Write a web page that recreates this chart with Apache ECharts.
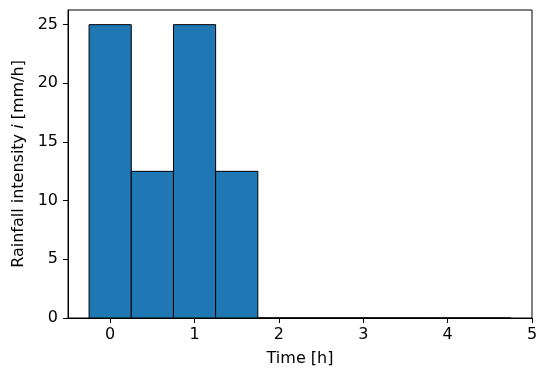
<!DOCTYPE html>
<html>
<head>
<meta charset="utf-8">
<script src="https://cdn.jsdelivr.net/npm/echarts@6/dist/echarts.min.js"></script>
<style>
  html, body { margin: 0; padding: 0; background: #fff; }
  #chart { width: 548px; height: 379px; }
</style>
</head>
<body>
<div id="chart"></div>
<script>
// time step centres [h] and rainfall intensity [mm/h]
const times = [0, 0.5, 1, 1.5, 2, 2.5, 3, 3.5, 4, 4.5];
const intensity = [25, 12.5, 25, 12.5, 0, 0, 0, 0, 0, 0];
const binWidth = 0.5;
const xTicks = [0, 1, 2, 3, 4, 5];
const yTicks = [0, 5, 10, 15, 20, 25];

const font = 'DejaVu Sans';
const fs = 16;
const chart = echarts.init(document.getElementById('chart'));

chart.setOption({
    animation: false,
    grid: {
        left: 68, right: 16, top: 10, bottom: 61,
        show: true, borderColor: '#000', borderWidth: 1
    },
    xAxis: {
        type: 'value',
        min: -0.5, max: 5,
        name: 'Time [h]',
        nameLocation: 'middle',
        nameGap: 33,
        nameTextStyle: { fontFamily: font, fontSize: fs, color: '#000' },
        axisLine: { show: true, onZero: false, lineStyle: { color: '#000', width: 1 } },
        axisTick: { show: true, inside: false, length: 5, customValues: xTicks, lineStyle: { color: '#000' } },
        axisLabel: { customValues: xTicks, margin: 9, fontFamily: font, fontSize: fs, color: '#000' },
        splitLine: { show: false }
    },
    yAxis: {
        type: 'value',
        min: 0, max: 26.25,
        name: '{a|Rainfall intensity }{i|i}{a| [mm/h]}',
        nameLocation: 'middle',
        nameGap: 40,
        nameTextStyle: {
            fontFamily: font, fontSize: fs, color: '#000',
            rich: {
                a: { fontFamily: font, fontSize: fs, color: '#000' },
                i: { fontFamily: font, fontSize: fs, color: '#000', fontStyle: 'italic' }
            }
        },
        axisLine: { show: true, onZero: false, lineStyle: { color: '#000', width: 1 } },
        axisTick: { show: true, inside: false, length: 5, customValues: yTicks, lineStyle: { color: '#000' } },
        axisLabel: { customValues: yTicks, margin: 10, fontFamily: font, fontSize: fs, color: '#000' },
        splitLine: { show: false }
    },
    series: [{
        type: 'custom',
        data: times.map((t, i) => [t, intensity[i]]),
        renderItem: (params, api) => {
            const t = api.value(0);
            const v = api.value(1);
            const p0 = api.coord([t - binWidth / 2, v]);
            const p1 = api.coord([t + binWidth / 2, 0]);
            return {
                type: 'rect',
                shape: { x: p0[0], y: p0[1], width: p1[0] - p0[0], height: p1[1] - p0[1] },
                style: { fill: '#1f77b4', stroke: '#000', lineWidth: 1 }
            };
        }
    }]
});
</script>
</body>
</html>
